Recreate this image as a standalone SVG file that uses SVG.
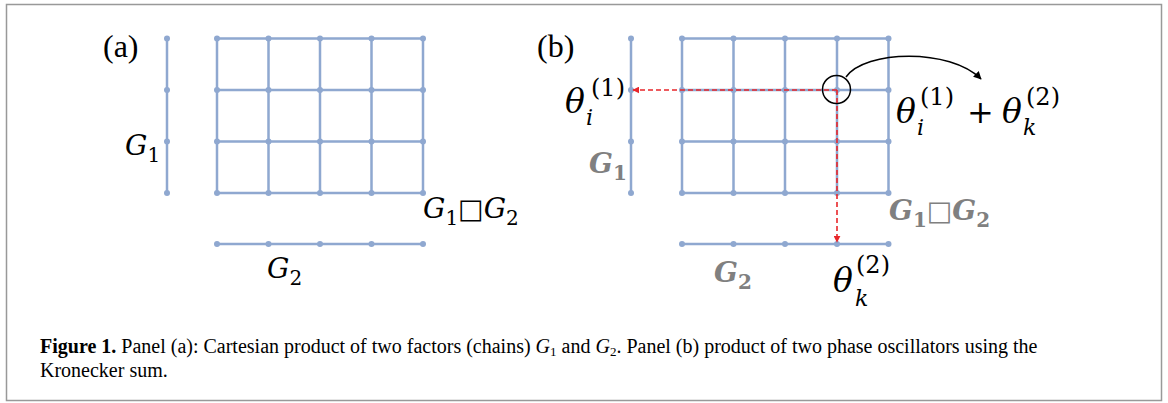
<svg xmlns="http://www.w3.org/2000/svg" width="1168" height="403" viewBox="0 0 1168 403">
<defs>
<style>
.edge{stroke:#8FA8D0;stroke-width:2.5;fill:none;stroke-linecap:round}
.dot{fill:#8FA8D0}
.lbl{font-family:"Liberation Serif",serif;font-size:32px;fill:#000}
.m{font-family:"DejaVu Serif",serif;font-style:italic;fill:#000}
.mu{font-family:"DejaVu Serif",serif;font-style:normal;fill:#000}
.g{font-family:"DejaVu Serif",serif;font-style:italic;font-weight:bold;fill:#808080}
.gu{font-family:"DejaVu Serif",serif;font-weight:bold;fill:#808080}
.red{stroke:#E8262A;stroke-width:1.6;stroke-dasharray:5 3;fill:none}
.cap{font-family:"Liberation Serif",serif;font-size:20px;fill:#000}
</style>
<marker id="ra" viewBox="0 0 10 10" refX="9" refY="5" markerWidth="7" markerHeight="7" orient="auto" markerUnits="userSpaceOnUse"><path d="M0,0 L10,5 L0,10 z" fill="#E8262A"/></marker>
<marker id="ba" viewBox="0 0 10 10" refX="9" refY="5" markerWidth="8" markerHeight="8" orient="auto" markerUnits="userSpaceOnUse"><path d="M0,0 L10,5 L0,10 z" fill="#000"/></marker>
</defs>
<rect x="6.5" y="4.5" width="1155" height="396" fill="#fff" stroke="#999" stroke-width="1.5"/>

<!-- Panel (a) -->
<g id="panel-a">
<text class="lbl" x="103" y="57">(a)</text>
<g id="a-G1">
<path class="edge" d="M167,38.5V193"/>
<circle class="dot" cx="167" cy="38.5" r="3"/><circle class="dot" cx="167" cy="90" r="3"/><circle class="dot" cx="167" cy="141.5" r="3"/><circle class="dot" cx="167" cy="193" r="3"/>
<text x="125" y="155"><tspan class="m" font-size="28">G</tspan><tspan class="mu" font-size="20" dy="7">1</tspan></text>
</g>
<g id="a-product">
<path class="edge" d="M217,38.5H423M217,90H423M217,141.5H423M217,193H423M217,38.5V193M268.5,38.5V193M320,38.5V193M371.5,38.5V193M423,38.5V193"/>
<circle class="dot" cx="217" cy="38.5" r="3"/><circle class="dot" cx="268.5" cy="38.5" r="3"/><circle class="dot" cx="320" cy="38.5" r="3"/><circle class="dot" cx="371.5" cy="38.5" r="3"/><circle class="dot" cx="423" cy="38.5" r="3"/>
<circle class="dot" cx="217" cy="90" r="3"/><circle class="dot" cx="268.5" cy="90" r="3"/><circle class="dot" cx="320" cy="90" r="3"/><circle class="dot" cx="371.5" cy="90" r="3"/><circle class="dot" cx="423" cy="90" r="3"/>
<circle class="dot" cx="217" cy="141.5" r="3"/><circle class="dot" cx="268.5" cy="141.5" r="3"/><circle class="dot" cx="320" cy="141.5" r="3"/><circle class="dot" cx="371.5" cy="141.5" r="3"/><circle class="dot" cx="423" cy="141.5" r="3"/>
<circle class="dot" cx="217" cy="193" r="3"/><circle class="dot" cx="268.5" cy="193" r="3"/><circle class="dot" cx="320" cy="193" r="3"/><circle class="dot" cx="371.5" cy="193" r="3"/><circle class="dot" cx="423" cy="193" r="3"/>
<text x="423" y="218"><tspan class="m" font-size="28">G</tspan><tspan class="mu" font-size="20" dy="7">1</tspan><tspan class="mu" font-size="27" dy="-7">□</tspan><tspan class="m" font-size="28">G</tspan><tspan class="mu" font-size="20" dy="7">2</tspan></text>
</g>
<g id="a-G2">
<path class="edge" d="M217,244H423"/>
<circle class="dot" cx="217" cy="244" r="3"/><circle class="dot" cx="268.5" cy="244" r="3"/><circle class="dot" cx="320" cy="244" r="3"/><circle class="dot" cx="371.5" cy="244" r="3"/><circle class="dot" cx="423" cy="244" r="3"/>
<text x="267" y="278"><tspan class="m" font-size="28">G</tspan><tspan class="mu" font-size="20" dy="7">2</tspan></text>
</g>
</g>

<!-- Panel (b) -->
<g id="panel-b">
<text class="lbl" x="537" y="57">(b)</text>
<g id="b-G1">
<path class="edge" d="M631,38.5V193"/>
<circle class="dot" cx="631" cy="38.5" r="3"/><circle class="dot" cx="631" cy="90" r="3"/><circle class="dot" cx="631" cy="141.5" r="3"/><circle class="dot" cx="631" cy="193" r="3"/>
<text x="589" y="173"><tspan class="g" font-size="28">G</tspan><tspan class="gu" font-size="20" dy="7">1</tspan></text>
<text class="m" font-size="33" x="565" y="113">θ</text>
<text class="m" font-size="22" x="586" y="125">i</text>
<text class="mu" font-size="24" x="591" y="96">(1)</text>
</g>
<g id="b-product">
<path class="edge" d="M682,38.5H888.5M682,90H888.5M682,141.5H888.5M682,193H888.5M682,38.5V193M733.5,38.5V193M785,38.5V193M837,38.5V193M888.5,38.5V193"/>
<circle class="dot" cx="682" cy="38.5" r="3"/><circle class="dot" cx="733.5" cy="38.5" r="3"/><circle class="dot" cx="785" cy="38.5" r="3"/><circle class="dot" cx="837" cy="38.5" r="3"/><circle class="dot" cx="888.5" cy="38.5" r="3"/>
<circle class="dot" cx="682" cy="90" r="3"/><circle class="dot" cx="733.5" cy="90" r="3"/><circle class="dot" cx="785" cy="90" r="3"/><circle class="dot" cx="837" cy="90" r="3"/><circle class="dot" cx="888.5" cy="90" r="3"/>
<circle class="dot" cx="682" cy="141.5" r="3"/><circle class="dot" cx="733.5" cy="141.5" r="3"/><circle class="dot" cx="785" cy="141.5" r="3"/><circle class="dot" cx="837" cy="141.5" r="3"/><circle class="dot" cx="888.5" cy="141.5" r="3"/>
<circle class="dot" cx="682" cy="193" r="3"/><circle class="dot" cx="733.5" cy="193" r="3"/><circle class="dot" cx="785" cy="193" r="3"/><circle class="dot" cx="837" cy="193" r="3"/><circle class="dot" cx="888.5" cy="193" r="3"/>
<text x="889" y="220"><tspan class="g" font-size="28">G</tspan><tspan class="gu" font-size="20" dy="7">1</tspan><tspan class="gu" font-size="27" dy="-7" font-weight="normal">□</tspan><tspan class="g" font-size="28">G</tspan><tspan class="gu" font-size="20" dy="7">2</tspan></text>
<circle cx="836.5" cy="89.5" r="14" fill="none" stroke="#000" stroke-width="1.5"/>
<text class="m" font-size="33" x="896" y="123">θ</text>
<text class="m" font-size="22" x="917" y="135">i</text>
<text class="mu" font-size="24" x="920" y="105">(1)</text>
<text class="mu" font-size="32" x="967" y="123">+</text>
<text class="m" font-size="33" x="1002" y="123">θ</text>
<text class="m" font-size="22" x="1023" y="135">k</text>
<text class="mu" font-size="24" x="1026" y="105">(2)</text>
</g>
<g id="b-G2">
<path class="edge" d="M682,244H888.5"/>
<circle class="dot" cx="682" cy="244" r="3"/><circle class="dot" cx="733.5" cy="244" r="3"/><circle class="dot" cx="785" cy="244" r="3"/><circle class="dot" cx="837" cy="244" r="3"/><circle class="dot" cx="888.5" cy="244" r="3"/>
<text x="714" y="282"><tspan class="g" font-size="28">G</tspan><tspan class="gu" font-size="20" dy="7">2</tspan></text>
<text class="m" font-size="33" x="833" y="292">θ</text>
<text class="m" font-size="22" x="855" y="306">k</text>
<text class="mu" font-size="24" x="856" y="273">(2)</text>
</g>
</g>

<g id="connectors">
<path class="red" d="M837,90H633" marker-end="url(#ra)"/>
<path class="red" d="M837,90V242" marker-end="url(#ra)"/>
<path d="M846,77 C865,50 950,48 981,79" fill="none" stroke="#000" stroke-width="1.5" marker-end="url(#ba)"/>
</g>

<g id="caption">
<text class="cap" x="40" y="353"><tspan font-weight="bold">Figure 1.</tspan> Panel (a): Cartesian product of two factors (chains) <tspan font-style="italic">G</tspan><tspan font-size="13" dy="3">1</tspan><tspan dy="-3"> and </tspan><tspan font-style="italic">G</tspan><tspan font-size="13" dy="3">2</tspan><tspan dy="-3">. Panel (b) product of two phase oscillators using the</tspan></text>
<text class="cap" x="40" y="377">Kronecker sum.</text>
</g>
</svg>
